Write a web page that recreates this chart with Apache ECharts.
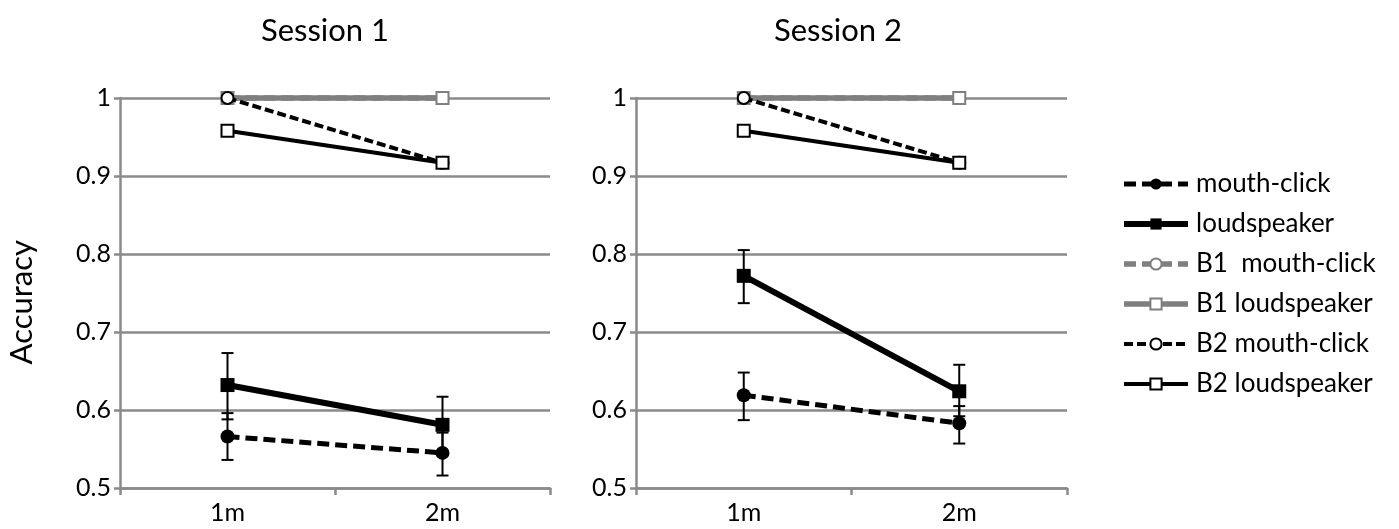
<!DOCTYPE html>
<html>
<head>
<meta charset="utf-8">
<script src="https://cdn.jsdelivr.net/npm/echarts@6/dist/echarts.min.js"></script>
<style>
html,body{margin:0;padding:0;background:#fff;}
#chart{width:1399px;height:529px;}
</style>
</head>
<body>
<div id="chart"></div>
<script>
// ---- data ----
const categories = ['1m', '2m'];
const sessions = ['Session 1', 'Session 2'];
const seriesNames = ['mouth-click', 'loudspeaker', 'B1  mouth-click', 'B1 loudspeaker', 'B2 mouth-click', 'B2 loudspeaker'];
const yTicks = [0.5, 0.6, 0.7, 0.8, 0.9, 1];

// Session 1
const s1MouthClick = [0.566, 0.545];
const s1MouthClickLow = [0.536, 0.516];
const s1MouthClickHigh = [0.596, 0.571];
const s1Loudspeaker = [0.632, 0.581];
const s1LoudspeakerLow = [0.588, 0.545];
const s1LoudspeakerHigh = [0.673, 0.617];
const s1B1MouthClick = [1, 1];
const s1B1Loudspeaker = [1, 1];
const s1B2MouthClick = [1, 0.917];
const s1B2Loudspeaker = [0.958, 0.917];

// Session 2
const s2MouthClick = [0.619, 0.583];
const s2MouthClickLow = [0.587, 0.557];
const s2MouthClickHigh = [0.648, 0.605];
const s2Loudspeaker = [0.772, 0.624];
const s2LoudspeakerLow = [0.737, 0.592];
const s2LoudspeakerHigh = [0.805, 0.658];
const s2B1MouthClick = [1, 1];
const s2B1Loudspeaker = [1, 1];
const s2B2MouthClick = [1, 0.917];
const s2B2Loudspeaker = [0.958, 0.917];

// ---- chart ----
const FONT = 'Lato';
const GRAY = '#8a8a8a';
const chart = echarts.init(document.getElementById('chart'), null, {renderer: 'canvas'});

const styles = [
  {lineStyle:{color:'#000', width:5, type:[12,6]}, symbol:'circle', symbolSize:14, itemStyle:{color:'#000', borderColor:'#000', borderWidth:0}},
  {lineStyle:{color:'#000', width:6, type:'solid'}, symbol:'rect', symbolSize:14, itemStyle:{color:'#000', borderColor:'#000', borderWidth:0}},
  {lineStyle:{color:'#7f7f7f', width:5.5, type:[12,6]}, symbol:'circle', symbolSize:12, itemStyle:{color:'#fff', borderColor:'#7f7f7f', borderWidth:2}},
  {lineStyle:{color:'#7f7f7f', width:5.5, type:'solid'}, symbol:'rect', symbolSize:12, itemStyle:{color:'#fff', borderColor:'#7f7f7f', borderWidth:2}},
  {lineStyle:{color:'#000', width:4, type:[9,4]}, symbol:'circle', symbolSize:12, itemStyle:{color:'#fff', borderColor:'#000', borderWidth:2}},
  {lineStyle:{color:'#000', width:4, type:'solid'}, symbol:'rect', symbolSize:12, itemStyle:{color:'#fff', borderColor:'#000', borderWidth:2}}
];

const sessionData = [
  {lines:[s1MouthClick, s1Loudspeaker, s1B1MouthClick, s1B1Loudspeaker, s1B2MouthClick, s1B2Loudspeaker],
   err:[[s1MouthClickLow, s1MouthClickHigh],[s1LoudspeakerLow, s1LoudspeakerHigh]]},
  {lines:[s2MouthClick, s2Loudspeaker, s2B1MouthClick, s2B1Loudspeaker, s2B2MouthClick, s2B2Loudspeaker],
   err:[[s2MouthClickLow, s2MouthClickHigh],[s2LoudspeakerLow, s2LoudspeakerHigh]]}
];

const grids = [
  {left:120, top:98, width:430, height:390},
  {left:636, top:98, width:431, height:390}
];

const xAxes = grids.map((g,i)=>({
  type:'category', gridIndex:i, data:categories, boundaryGap:true,
  axisLine:{lineStyle:{color:GRAY, width:2.5}},
  axisTick:{show:true, length:7, lineStyle:{color:GRAY, width:2.5}},
  axisLabel:{color:'#000', fontSize:25, fontFamily:FONT, margin:12},
  splitLine:{show:false}
}));

const yAxes = grids.map((g,i)=>({
  type:'value', gridIndex:i, min:0.5, max:1, interval:0.1,
  axisLine:{show:true, lineStyle:{color:GRAY, width:2.5}},
  axisTick:{show:true, length:6, lineStyle:{color:GRAY, width:2.5}},
  axisLabel:{color:'#000', fontSize:25, fontFamily:FONT, margin:9,
    formatter:v=>{ const t = yTicks.find(x=>Math.abs(x-v)<1e-9); return t===undefined ? '' : String(t); }},
  splitLine:{show:true, lineStyle:{color:GRAY, width:2.5}}
}));

const series = [];
sessionData.forEach((sd, gi)=>{
  sd.err.forEach((pair)=>{
    const low = pair[0], high = pair[1];
    series.push({
      type:'custom', xAxisIndex:gi, yAxisIndex:gi, z:1, silent:true, clip:false,
      data: categories.map((c,j)=>[j, low[j], high[j]]),
      renderItem:(params, api)=>{
        const x = api.value(0);
        const pLow = api.coord([x, api.value(1)]);
        const pHigh = api.coord([x, api.value(2)]);
        const cap = 6;
        const st = {stroke:'#000', lineWidth:2};
        return {type:'group', children:[
          {type:'line', shape:{x1:pLow[0], y1:pLow[1], x2:pHigh[0], y2:pHigh[1]}, style:st},
          {type:'line', shape:{x1:pLow[0]-cap, y1:pLow[1], x2:pLow[0]+cap, y2:pLow[1]}, style:st},
          {type:'line', shape:{x1:pHigh[0]-cap, y1:pHigh[1], x2:pHigh[0]+cap, y2:pHigh[1]}, style:st}
        ]};
      }
    });
  });
  sd.lines.forEach((vals, si)=>{
    const s = styles[si];
    series.push({
      name: seriesNames[si], type:'line', xAxisIndex:gi, yAxisIndex:gi, clip:false,
      data: vals, z: 3 + si, symbol: s.symbol, symbolSize: s.symbolSize,
      showAllSymbol:true, lineStyle: s.lineStyle, itemStyle: s.itemStyle,
      emphasis:{disabled:true}, animation:false
    });
  });
});

chart.setOption({
  animation:false,
  backgroundColor:'#fff',
  title: [
    {text:sessions[0], left:320, top:10, textAlign:'center', textStyle:{fontFamily:FONT, fontSize:31, fontWeight:'normal', color:'#000'}},
    {text:sessions[1], left:833, top:10, textAlign:'center', textStyle:{fontFamily:FONT, fontSize:31, fontWeight:'normal', color:'#000'}}
  ],
  graphic: [
    {type:'text', left:6, top:240, rotation:Math.PI/2, style:{text:'Accuracy', font:'31px '+FONT, fill:'#000'}}
  ],
  legend: {
    data: seriesNames, orient:'vertical', left:1116, top:166, itemGap:14,
    itemWidth:64, itemHeight:14,
    lineStyle:{width:'inherit'},
    textStyle:{fontFamily:FONT, fontSize:26, color:'#000', padding:[0,0,0,3]},
    selectedMode:false
  },
  grid: grids,
  xAxis: xAxes,
  yAxis: yAxes,
  series: series
});
</script>
</body>
</html>
